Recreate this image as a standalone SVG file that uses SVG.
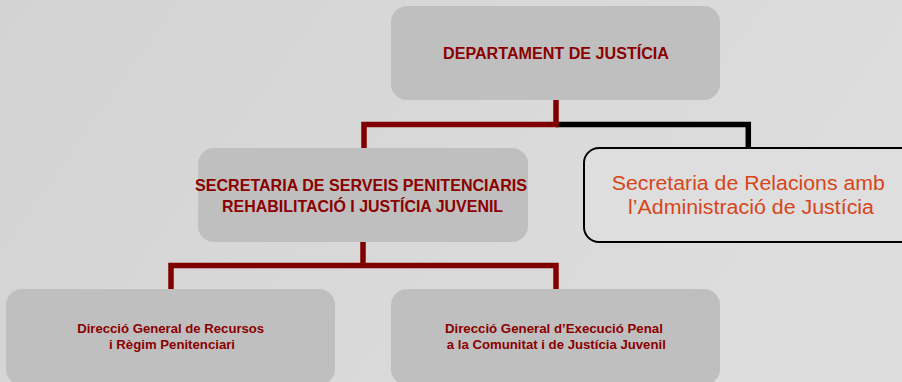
<svg xmlns="http://www.w3.org/2000/svg" width="902" height="382" viewBox="0 0 902 382">
<defs>
<linearGradient id="bg" x1="0" y1="0" x2="1" y2="0.3">
<stop offset="0" stop-color="#d3d3d3"/>
<stop offset="1" stop-color="#dddddd"/>
</linearGradient>
<style>
.box{fill:#bfbfbf;}
.wbox{fill:#dedede;stroke:#000;stroke-width:2;}
.red{fill:none;stroke:#800000;stroke-width:5.5;stroke-linejoin:miter;stroke-linecap:square;}
.blk{fill:none;stroke:#000;stroke-width:5.5;stroke-linejoin:miter;}
.t{font-family:"Liberation Sans",Arial,sans-serif;font-weight:bold;fill:#8b0000;text-anchor:middle;}
.o{font-family:"Liberation Sans",Arial,sans-serif;fill:#d6461a;text-anchor:middle;font-size:19.5px;}
</style>
</defs>
<rect x="0" y="0" width="902" height="382" fill="url(#bg)"/>
<g id="connectors">
<path class="blk" d="M556,124.5 H748.3 V148"/>
<path class="red" d="M556,100 V124.5 H364 V148"/>
<path class="red" d="M363,242 V265.5 M171,289 V265.5 H556 V289"/>
</g>
<g id="dept">
<rect class="box" x="391" y="6" width="329" height="94" rx="16"/>
<text class="t" x="556" y="59" font-size="16" textLength="226" lengthAdjust="spacingAndGlyphs">DEPARTAMENT DE JUSTÍCIA</text>
</g>
<g id="secretaria-serveis">
<rect class="box" x="198" y="148" width="330" height="94" rx="16"/>
<text class="t" font-size="16.5"><tspan x="361" y="191.3" textLength="332" lengthAdjust="spacingAndGlyphs">SECRETARIA DE SERVEIS PENITENCIARIS</tspan><tspan x="362.6" y="211.7" textLength="281" lengthAdjust="spacingAndGlyphs">REHABILITACIÓ I JUSTÍCIA JUVENIL</tspan></text>
</g>
<g id="secretaria-relacions">
<rect class="wbox" x="584" y="148" width="332" height="94" rx="15"/>
<text class="o"><tspan x="748.3" y="190" textLength="273" lengthAdjust="spacingAndGlyphs">Secretaria de Relacions amb</tspan><tspan x="751" y="214.3" textLength="246" lengthAdjust="spacingAndGlyphs">l’Administració de Justícia</tspan></text>
</g>
<g id="dg-recursos">
<rect class="box" x="6" y="289" width="329" height="96" rx="16"/>
<text class="t" font-size="12"><tspan x="170.7" y="333.3" textLength="187" lengthAdjust="spacingAndGlyphs">Direcció General de Recursos</tspan><tspan x="172" y="349.3" textLength="126" lengthAdjust="spacingAndGlyphs">i Règim Penitenciari</tspan></text>
</g>
<g id="dg-execucio">
<rect class="box" x="391" y="289" width="329" height="96" rx="16"/>
<text class="t" font-size="12"><tspan x="553.9" y="333.3" textLength="218" lengthAdjust="spacingAndGlyphs">Direcció General d’Execució Penal</tspan><tspan x="556.3" y="349.3" textLength="219" lengthAdjust="spacingAndGlyphs">a la Comunitat i de Justícia Juvenil</tspan></text>
</g>
</svg>
